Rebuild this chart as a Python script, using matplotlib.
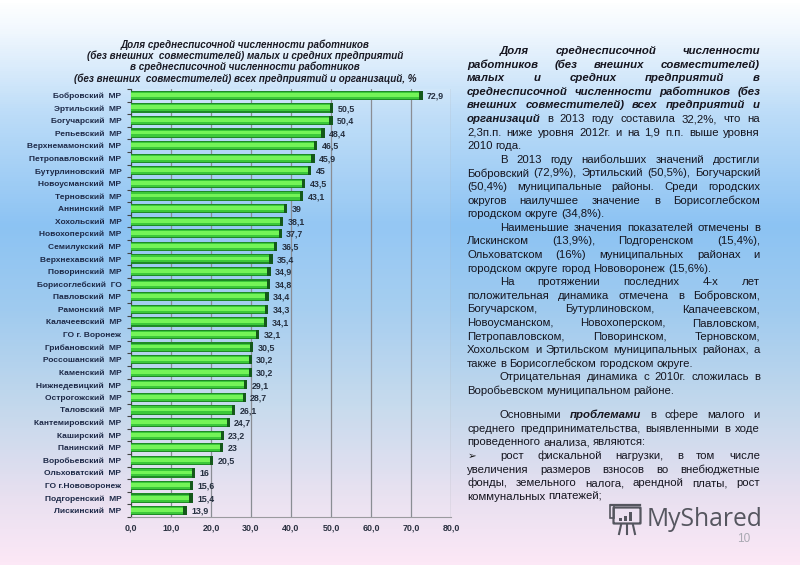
"""
Slide: share of SME employees by district, with commentary text
"""

import numpy as np
import matplotlib
matplotlib.use('Agg')
import matplotlib.pyplot as plt
from matplotlib.colors import LinearSegmentedColormap
from matplotlib.patches import Rectangle, FancyBboxPatch

plt.rcParams['font.family'] = ['Liberation Sans', 'DejaVu Sans']

# Chart data, top to bottom
districts = ['Бобровский  МР', 'Эртильский  МР', 'Богучарский  МР', 'Репьевский  МР',
             'Верхнемамонский  МР', 'Петропавловский  МР', 'Бутурлиновский  МР',
             'Новоусманский  МР', 'Терновский  МР', 'Аннинский  МР', 'Хохольский  МР',
             'Новохоперский  МР', 'Семилукский  МР', 'Верхнехавский  МР', 'Поворинский  МР',
             'Борисоглебский  ГО', 'Павловский  МР', 'Рамонский  МР', 'Калачеевский  МР',
             'ГО г. Воронеж', 'Грибановский  МР', 'Россошанский  МР', 'Каменский  МР',
             'Нижнедевицкий  МР', 'Острогожский  МР', 'Таловский  МР', 'Кантемировский  МР',
             'Каширский  МР', 'Панинский  МР', 'Воробьевский  МР', 'Ольховатский  МР',
             'ГО г.Нововоронеж', 'Подгоренский  МР', 'Лискинский  МР']
shares = [72.9, 50.5, 50.4, 48.4, 46.5, 45.9, 45, 43.5, 43.1, 39, 38.1, 37.7, 36.5, 35.4,
          34.9, 34.8, 34.4, 34.3, 34.1, 32.1, 30.5, 30.2, 30.2, 29.1, 28.7, 26.1, 24.7,
          23.2, 23, 20.5, 16, 15.6, 15.4, 13.9]
xticks = [0, 10, 20, 30, 40, 50, 60, 70, 80]

title_lines = ['Доля среднесписочной численности работников',
               '(без внешних  совместителей) малых и средних предприятий',
               'в среднесписочной численности работников',
               '(без внешних  совместителей) всех предприятий и организаций, %']

# * marks bold italic words, > marks an indented first line, last lines are not justified
body_lines = [
    '>*Доля *среднесписочной *численности',
    '*работников *(без *внешних *совместителей)',
    '*малых *и *средних *предприятий *в',
    '*среднесписочной *численности *работников *(без',
    '*внешних *совместителей) *всех *предприятий *и',
    '*организаций в 2013 году составила 32,2%, что на',
    '2,3п.п. ниже уровня 2012г. и на 1,9 п.п. выше уровня',
    '2010 года.|',
    '>В 2013 году наибольших значений достигли',
    'Бобровский (72,9%), Эртильский (50,5%), Богучарский',
    '(50,4%) муниципальные районы. Среди городских',
    'округов наилучшее значение в Борисоглебском',
    'городском округе (34,8%).|',
    '>Наименьшие значения показателей отмечены в',
    'Лискинском (13,9%), Подгоренском (15,4%),',
    'Ольховатском (16%) муниципальных районах и',
    'городском округе город Нововоронеж (15,6%).|',
    '>На протяжении последних 4-х лет',
    'положительная динамика отмечена в Бобровском,',
    'Богучарском, Бутурлиновском, Капачеевском,',
    'Новоусманском, Новохоперском, Павловском,',
    'Петропавловском, Поворинском, Терновском,',
    'Хохольском и Эртильском муниципальных районах, а',
    'также в Борисоглебском городском округе.|',
    '>Отрицательная динамика с 2010г. сложилась в',
    'Воробьевском муниципальном районе.|',
    None,
    '>Основными *проблемами в сфере малого и',
    'среднего предпринимательства, выявленными в ходе',
    'проведенного анализа, являются:|',
    '>рост фискальной нагрузки, в том числе',
    'увеличения размеров взносов во внебюджетные',
    'фонды, земельного налога, арендной платы, рост',
    'коммунальных платежей;|',
]

W, H = 800, 565
fig = plt.figure(figsize=(W / 100, H / 100), dpi=100)

# Slide background, white to sky blue to pink
bg = fig.add_axes([0, 0, 1, 1], zorder=0)
bg_cmap = LinearSegmentedColormap.from_list('slide', [
    (0.0, '#ffffff'), (0.05, '#f2f8fe'), (0.2, '#bcdcf8'), (0.4, '#8cc3f3'),
    (0.55, '#a0cbef'), (0.72, '#c3d8ec'), (0.88, '#e8e0f0'), (1.0, '#fce8f6')])
bg.imshow(np.linspace(0, 1, 565).reshape(-1, 1), aspect='auto', cmap=bg_cmap,
          extent=[0, W, H, 0])
bg.set_xlim(0, W)
bg.set_ylim(H, 0)
bg.axis('off')

# Bar chart
ax = fig.add_axes([131 / W, 1 - 517 / H, 320 / W, 428 / H], zorder=1)
ax.patch.set_facecolor('white')
ax.patch.set_alpha(0.08)
pos = np.arange(len(districts))
ax.barh(pos, shares, height=0.74, color='#1f8a26', zorder=3)
ax.barh(pos, shares, height=0.56, color='#3cc83a', zorder=4)
ax.barh(pos - 0.04, shares, height=0.3, color='#74f458', zorder=5)
ax.barh(pos, 0.8, left=np.array(shares) - 0.8, height=0.74, color='#14591a', zorder=6)
ax.set_ylim(len(districts) - 0.5, -0.5)
ax.set_xlim(0, 80)
ax.set_xticks(xticks, [f'{t},0' for t in xticks], fontsize=6.4, fontweight='bold',
              color='#2a3040')
ax.set_yticks(pos, districts, fontsize=6.0, fontweight='bold', color='#1e2a48')
ax.set_yticks(np.arange(len(districts) + 1) - 0.5, minor=True)
ax.tick_params(axis='y', which='major', length=0, pad=7)
ax.tick_params(axis='y', which='minor', length=3, color='#444444', width=0.8)
ax.tick_params(axis='x', length=0, pad=5)
ax.grid(axis='x', color='#8a8d94', lw=0.9, zorder=1)
ax.set_axisbelow(True)
for side in ['top', 'right']:
    ax.spines[side].set_visible(False)
ax.spines['left'].set_color('#444444')
ax.spines['bottom'].set_color('#9a9a9f')
for y, v in zip(pos, shares):
    ax.annotate(str(v).replace('.', ','), (v, y), xytext=(3.2, -0.5),
                textcoords='offset points', va='center', fontsize=6.4,
                fontweight='bold', color='#263040', zorder=7)

# Overlay in pixel coordinates for the slide text
ov = fig.add_axes([0, 0, 1, 1], zorder=2)
ov.set_xlim(0, W)
ov.set_ylim(H, 0)
ov.axis('off')

for i, line in enumerate(title_lines):
    ov.text(245, 44.5 + 11.3 * i, line, ha='center', va='center', fontsize=7.15,
            fontweight='bold', style='italic', color='#1a1a24')

renderer = fig.canvas.get_renderer()
LEFT, RIGHT = 467, 760
BODY_SIZE = 8.2


def word_width(word, bold):
    t = ov.text(0, 0, word, fontsize=BODY_SIZE, fontweight='bold' if bold else 'normal',
                style='italic' if bold else 'normal')
    w = t.get_window_extent(renderer).width
    t.remove()
    return w


y = 51
for line in body_lines:
    if line is None:
        y += 10.5
        continue
    indent = line.startswith('>')
    last = line.endswith('|')
    words = line.strip('>|').split()
    bolds = [w.startswith('*') for w in words]
    words = [w.lstrip('*') for w in words]
    widths = [word_width(w, b) for w, b in zip(words, bolds)]
    x0 = LEFT + 33 if indent else LEFT
    gap = 3.0 if last or len(words) < 2 else (RIGHT - x0 - sum(widths)) / (len(words) - 1)
    x = x0
    for w, b, wd in zip(words, bolds, widths):
        ov.text(x, y, w, va='center', fontsize=BODY_SIZE, color='#15151f',
                fontweight='bold' if b else 'normal', style='italic' if b else 'normal')
        x += wd + gap
    if line.startswith('>рост'):
        ov.text(LEFT + 1, y, '➢', va='center', fontsize=7.5, color='#111111',
                family=['DejaVu Sans'])
    y += 13.6

# MyShared watermark
gray = '#55565f'
ov.text(647, 519, 'MyShared', va='center', fontsize=17.7, color=gray, family='Open Sans')
ov.add_patch(FancyBboxPatch((614, 508), 26, 15, boxstyle='round,pad=0.5', fc='none',
                            ec=gray, lw=1.6))
ov.add_patch(Rectangle((610, 505), 4, 13, fc='none', ec=gray, lw=1.2))
ov.plot([611, 640], [505, 505], color=gray, lw=1.6)
for bx, bh in zip([619, 624, 629], [3, 5, 9]):
    ov.add_patch(Rectangle((bx, 521 - bh), 3, bh, fc=gray, ec='none'))
for x0, x1 in [(621, 619), (627, 627), (633, 635)]:
    ov.plot([x0, x1], [525, 534], color=gray, lw=1.5)
ov.set_xlim(0, W)
ov.set_ylim(H, 0)
ov.text(744, 539, '10', ha='center', va='center', fontsize=8.5, color='#a9a9b2')

fig.savefig('out.png', dpi=100)
